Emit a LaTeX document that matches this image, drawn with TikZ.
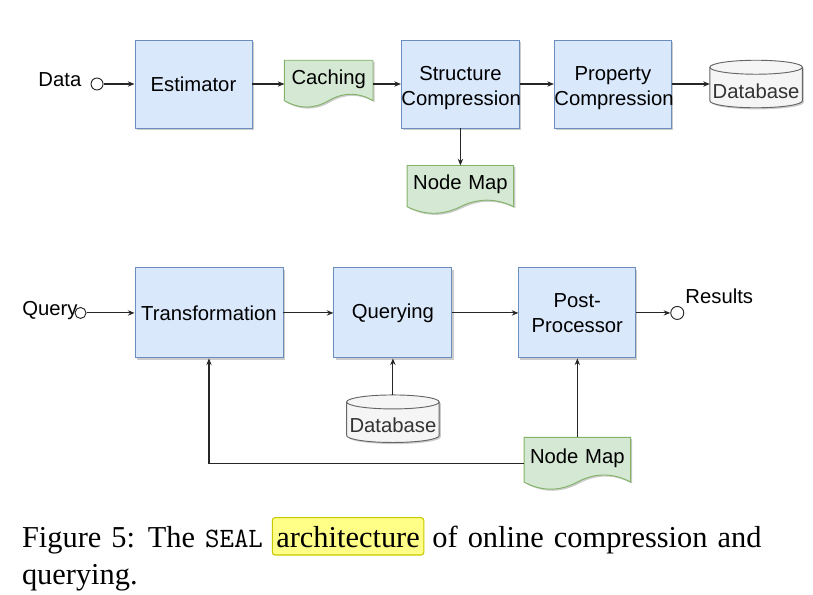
\documentclass[tikz,border=0pt]{standalone}
\usepackage{fontspec}
\setmainfont{Liberation Serif}
\newfontfamily\diagfont{Liberation Sans}
\usepackage{xcolor}
\usepackage{tikz}
\usetikzlibrary{arrows.meta,positioning,shapes.geometric,calc,shadows,backgrounds}
\definecolor{azulFundo}{HTML}{DAE8FC}
\definecolor{azulBorda}{HTML}{6C8EBF}
\definecolor{verdeFundo}{HTML}{D5E8D4}
\definecolor{verdeBorda}{HTML}{82B366}
\definecolor{cinzaFundo}{HTML}{F5F5F5}
\definecolor{cinzaBorda}{HTML}{666666}
\definecolor{cinzaTexto}{HTML}{333333}
\definecolor{realceFundo}{HTML}{FFFF88}
\definecolor{realceBorda}{HTML}{C8C800}
\tikzset{
    sombra/.style={
        drop shadow={shadow xshift=1.2pt, shadow yshift=-1.2pt, opacity=0.2, fill=black}
    },
    bloco/.style={
        rectangle,
        draw=azulBorda,
        fill=azulFundo,
        line width=0.7pt,
        sombra,
        align=center,
        inner sep=0pt,
        minimum height=66pt,
        text width=87.75pt
    },
    duasLinhas/.style={text depth=15.6pt},
    documento/.style={
        rectangle,
        inner sep=0pt,
        align=center,
        text height=11pt,
        text depth=11pt,
        minimum height=35.25pt,
        text width=66pt
    },
    docForma/.style={fill=verdeFundo, draw=verdeBorda, line width=0.7pt, sombra},
    banco/.style={
        rectangle,
        inner sep=0pt,
        text=cinzaTexto,
        text height=21.4pt,
        text depth=0pt,
        minimum width=69pt,
        minimum height=35.25pt
    },
    bancoForma/.style={fill=cinzaFundo, draw=cinzaBorda, line width=0.7pt, sombra},
    terminal/.style={circle, draw=black!85, fill=white, line width=0.7pt, minimum size=9pt, inner sep=0pt},
    rotulo/.style={inner sep=0pt},
    fluxo/.style={-{Stealth[length=5pt,width=4pt]}, line width=0.8pt, draw=black!85},
    legenda/.style={
        inner sep=0pt,
        font=\fontsize{22.8}{27}\selectfont,
        execute at begin node={\spaceskip=7.6pt\relax}
    },
    realce/.style={
        legenda,
        fill=realceFundo,
        draw=realceBorda,
        line width=0.8pt,
        rounded corners=2pt,
        inner xsep=3pt,
        text height=22pt,
        text depth=6pt
    }
}

\begin{document}
\begin{tikzpicture}[
        node distance=24pt and 24pt,
        every node/.style={font=\diagfont\fontsize{15.2}{18.4}\selectfont}
    ]
        \useasboundingbox (0,0) rectangle (609.75pt,-445.5pt);

        % compressao online
        \node[bloco] (est) at (145.1pt,-63pt) {Estimator};
        \node[documento, right=24pt of est] (cach) {Caching};
        \node[bloco, duasLinhas, right=21pt of cach, text width=88.5pt] (struct) {Structure\\Compression};
        \node[bloco, duasLinhas, right=25.5pt of struct] (prop) {Property\\Compression};
        \node[banco, right=28.5pt of prop] (db1) {Database};
        \node[documento, below=27.75pt of struct, text width=79.5pt, minimum height=36pt] (nm1) {Node Map};
        \node[terminal, left=23.25pt of est] (dataIn) {};
        \node[rotulo, left=6.75pt of dataIn, yshift=3pt] (dataLbl) {Data};

        % consulta
        \node[bloco, below right=104.25pt and 0pt of est.south west, text width=111pt, minimum height=67.5pt] (trans) {Transformation};
        \node[bloco, right=37.5pt of trans, text width=88.5pt, minimum height=67.5pt] (quer) {Querying};
        \node[bloco, right=49.5pt of quer, minimum height=67.5pt] (post) {Post-\\Processor};
        \node[terminal, right=25.5pt of post, minimum size=9.75pt] (resOut) {};
        \node[rotulo, above right=3.3pt and 2.25pt of resOut.north east] (resLbl) {Results};
        \node[terminal, left=36pt of trans, minimum size=8.25pt] (queryIn) {};
        \node[rotulo, left=-2.5pt of queryIn, yshift=1.5pt] (queryLbl) {Query};
        \node[banco, below=27.4pt of quer] (db2) {Database};
        \node[documento, below=59.25pt of post, text width=79.5pt, minimum height=39pt] (nm2) {Node Map};

        \begin{scope}[on background layer]
            \foreach \d in {cach,nm1,nm2}
                \draw[docForma] let \p1=(\d.south west), \p2=(\d.north east),
                    \n1={\x2-\x1}, \n2={0.3*(\y2-\y1)} in
                    (\x1,\y2) -- (\x2,\y2) -- (\x2,{\y1+0.5*\n2*1pt})
                    .. controls ({\x1+5/6*\n1*1pt},{\y1+1.1*\n2*1pt}) and ({\x1+2/3*\n1*1pt},{\y1+1.1*\n2*1pt}) .. ({\x1+0.5*\n1*1pt},{\y1+0.5*\n2*1pt})
                    .. controls ({\x1+1/3*\n1*1pt},{\y1-0.1*\n2*1pt}) and ({\x1+1/6*\n1*1pt},{\y1-0.1*\n2*1pt}) .. (\x1,{\y1+0.5*\n2*1pt})
                    -- cycle;
            \foreach \b in {db1,db2}{
                \draw[bancoForma] let \p1=(\b.south west), \p2=(\b.north east),
                    \n1={0.5*(\x2-\x1)} in
                    (\x1,{\y2-5.25pt}) -- (\x1,{\y1+5.25pt})
                    arc[start angle=180, end angle=360, x radius=\n1*1pt, y radius=5.25pt]
                    -- (\x2,{\y2-5.25pt})
                    arc[start angle=0, end angle=180, x radius=\n1*1pt, y radius=5.25pt]
                    -- cycle;
                \draw[cinzaBorda, line width=0.7pt] let \p1=(\b.south west), \p2=(\b.north east),
                    \n1={0.5*(\x2-\x1)} in
                    (\x1,{\y2-5.25pt})
                    arc[start angle=180, end angle=360, x radius=\n1*1pt, y radius=5.25pt];
            }
        \end{scope}

        \draw[fluxo] (dataIn) -- (est);
        \draw[fluxo] (est) -- (cach);
        \draw[fluxo] (cach) -- (struct);
        \draw[fluxo] (struct) -- (prop);
        \draw[fluxo] (prop) -- (db1);
        \draw[fluxo] (struct) -- (nm1);

        \draw[fluxo] (queryIn) -- (trans);
        \draw[fluxo] (trans) -- (quer);
        \draw[fluxo] (quer) -- (post);
        \draw[fluxo] (post) -- (resOut);
        \draw[fluxo] (db2) -- (quer);
        \draw[fluxo] (nm2) -- (post);
        \draw[fluxo] (nm2.west) -| (trans.south);

        % legenda
        \node[legenda, anchor=base west] (capA) at (16.3pt,-410.25pt) {Figure 5: The {\ttfamily\fontsize{21}{21}\selectfont SEAL}};
        \node[realce, anchor=base west] (capHl) at ([xshift=6.5pt]capA.base east) {architecture};
        \node[legenda, anchor=base west] (capB) at ([xshift=5.8pt]capHl.base east) {of online compression and};
        \node[legenda, anchor=base west] (capC) at (16.3pt,-438pt) {querying.};
    \end{tikzpicture}
\end{document}
